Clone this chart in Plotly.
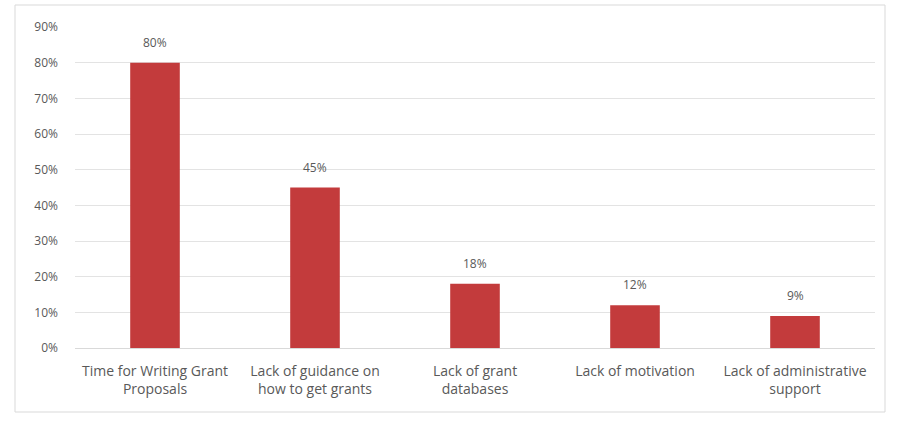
import plotly.graph_objects as go

categories = ["Time for Writing Grant<br>Proposals", "Lack of guidance on<br>how to get grants",
              "Lack of grant<br>databases", "Lack of motivation", "Lack of administrative<br>support"]
values = [0.80, 0.45, 0.18, 0.12, 0.09]
tick_vals = [0, 0.1, 0.2, 0.3, 0.4, 0.5, 0.6, 0.7, 0.8, 0.9]
tick_text = ["0%", "10%", "20%", "30%", "40%", "50%", "60%", "70%", "80%", "90%"]

W, H = 897, 427
ml, mr, mt, mb = 75, 22, 27, 79
pw, ph = W - ml - mr, H - mt - mb

fig = go.Figure(go.Bar(
    x=categories, y=values,
    marker=dict(color="#C33B3C", line=dict(width=0)),
    cliponaxis=False,
))

for c, v in zip(categories, values):
    fig.add_annotation(x=c, y=v, text=f"{round(v*100)}%", showarrow=False,
                       yanchor="bottom", yshift=10,
                       font=dict(family="Open Sans", size=12, color="#595959"))

fig.update_layout(
    width=W, height=H,
    margin=dict(l=ml, r=mr, t=mt, b=mb),
    paper_bgcolor="white", plot_bgcolor="white",
    bargap=0.69,
    showlegend=False,
    font=dict(family="Open Sans", size=12, color="#595959"),
    xaxis=dict(showgrid=False, showline=True, linecolor="#D9D9D9", linewidth=1,
               tickfont=dict(size=14, color="#595959"), ticks="", ticklabelstandoff=10),
    yaxis=dict(range=[0, 0.9], tickvals=tick_vals, ticktext=tick_text,
               showgrid=True, gridcolor="#E3E3E3", gridwidth=1, zeroline=False,
               tickfont=dict(size=12, color="#595959"), ticklabelstandoff=16),
    shapes=[dict(type="rect", xref="paper", yref="paper",
                 x0=(15 - ml) / pw, x1=(885 - ml) / pw,
                 y0=(H - mb - 412) / ph, y1=(H - mb - 5) / ph,
                 line=dict(color="#D9D9D9", width=1), fillcolor="rgba(0,0,0,0)", layer="below")],
)

fig.write_html("out.html")
